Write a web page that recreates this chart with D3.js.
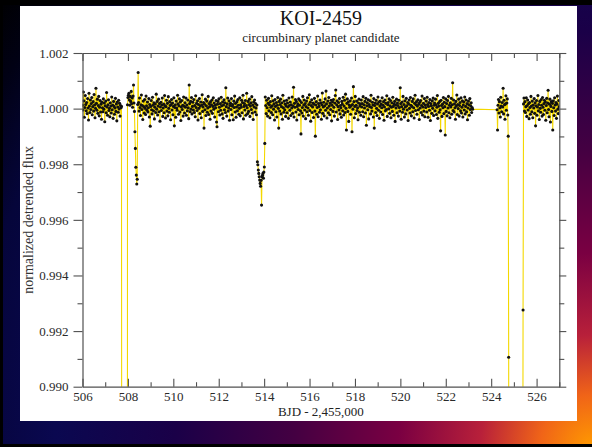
<!DOCTYPE html>
<html>
<head>
<meta charset="utf-8">
<script src="https://cdn.jsdelivr.net/npm/d3@7"></script>
<style>
  html, body { margin: 0; padding: 0; background: #000; }
  svg { display: block; }
</style>
</head>
<body>
<script>
// Kepler long-cadence sampling interval (days)
const cadence = 0.02043;

// Start times (BJD - 2,455,000) of the two contiguous stretches of photometry
const startA = 506.0;
const startB = 524.26;

// Detrended flux, as deviation from 1 in units of 1e-5, one value per cadence
const devA = [
  12, -5, 60, 28, -31, 4, 47, 15, -8, 22, -18, 36, 2, -41, 55, 9, -14, 31, -3, 18,
  40, -22, 7, 25, -9, 51, 13, -33, 1, 73, 19, -6, 34, -17, 11, 44, -26, 5, 29, -12,
  16, -38, 23, 3, -11, 35, -2, 20, -47, 10, 27, -15, 58, 6, -24, 14, 32, -7, 1, -29,
  21, 9, -16, 42, -4, 13, -35, 26, 8, -20, 2, 37, -10, 17, -44, 24, 6, -13, 30, -1,
  19, -27, 11, 3, 8, -2500, -8000, -14000, -19000, -22000, -23500, -24000, -23500, -22000, -19000, -14000, -8000, 14, 40, 48,
  55, 31, 12, 44, 26, 62, 18, 38, 5, 45, 85, 20, -10, -83, -143, -211, -239, -271, -254, 15,
  130, 22, -9, 38, 4, -25, 14, 49, -3, 11, -39, 27, 7, -16, 33, 1, -21, 45, 10, -6,
  24, -12, 3, 36, -30, 15, -63, 8, 29, -4, -19, 41, 12, -8, 21, -37, 5, 17, -14, 52,
  -2, 26, -23, 9, 34, -11, 18, -45, 6, 23, -7, 13, 38, -28, 2, 16, -15, 47, 10, -34,
  7, 30, -9, 19, -26, 43, 1, -13, 25, 11, -40, 15, 33, -5, 20, -22, 8, 39, -62, 4,
  14, -31, 27, 2, -6, 48, 17, -20, 10, 35, -12, 24, -43, 6, 29, -3, 12, -27, 42, 9,
  -16, 21, 5, 38, -24, 13, -8, 31, 3, -36, 85, 18, -11, 26, -2, 40, -19, 8, 23, -5,
  33, -14, 11, -29, 46, 4, 19, -7, 28, -41, 15, 1, 36, -18, 9, 24, -33, 13, 50, -10,
  6, 22, -70, 16, -4, 34, -25, 10, 27, -13, 2, 44, -21, 18, 7, -38, 25, -9, 14, 31,
  -17, 8, 39, -2, 20, -30, 12, 3, 29, -48, -65, 16, 26, -11, 35, 5, -23, 18, -6, 41,
  10, -19, 24, -35, 13, 32, -4, 21, -14, 75, 7, -27, 17, 38, -9, 2, 28, -42, 11, 19,
  -3, 36, -22, 9, 15, -40, 27, 4, 45, -12, 19, -31, 6, 25, -8, 33, 12, -20, 1, 39,
  -26, 14, 5, 30, -15, 22, 48, -37, 8, 18, -5, 29, -24, 11, 55, 3, -18, 26, -10, 15,
  34, -28, 9, 21, -3, 43, -16, 13, -39, 24, 6, 31, -12, 18, 2, -22, 13, -191, -202, -221,
  -233, -245, -257, -269, -279, -258, -347, -245, -240, -233, -250, -228, -210, -125, 42, 11, -18, 30, 3, -27,
  19, 37, -8, 14, -33, 25, 5, -14, 46, 10, -22, 28, -2, 17, -41, 33, 8, -11, 22, -30,
  12, 40, 1, -70, 26, -9, 15, 34, -19, 7, 21, -38, 48, 3, -13, 27, -4, 16, -28, 9,
  30, -15, 20, 6, -35, 38, 11, -6, 24, -25, 14, 2, 42, -17, 9, 77, -30, 19, 5, 33,
  -12, 26, -41, 8, 17, -3, 35, -22, 12, 29, -8, -91, 22, -16, 4, 44, -27, 13, 31, -5,
  18, -36, 7, 27, -11, 39, 2, -24, 15, 50, -7, 23, -45, 11, 32, -14, 6, 20, -32, 16,
  37, -9, -99, 13, 25, -20, 4, 45, -29, 18, 8, -13, 31, -4, 21, -38, 14, 56, -17, 6,
  23, -26, 10, 35, -6, 63, 17, -34, 2, 27, -15, 40, 9, -22, 19, -3, 30, -44, 12, 24,
  -10, 33, 5, -27, 20, 47, 67, -12, 14, 28, -39, 7, 22, -5, 36, -19, 11, 3, -31, 26,
  16, -8, 41, -23, 9, 30, -14, 52, 1, -77, 19, 35, -10, 24, -46, 13, 5, 28, -20, 10,
  38, -83, 15, -2, 79, 25, -33, 8, 44, -18, 12, 27, -7, 3, -40, 20, 34, -13, 9, 17,
  -24, 31, 6, 18, -11, 43, -29, 14, 2, 26, -16, 37, -60, 10, 21, -4, 32, -37, 15, 7,
  28, -19, 48, 4, -9, 23, 13, -30, 36, -70, 11, 20, -14, 30, 1, -25, 17, 42, -6, 24,
  -35, 9, 27, -12, 16, 3, 39, -21, 12, 25, -42, 6, 31, -8, 19, -3, 46, -28, 14, 22,
  -1, 35, -17, 10, 29, -33, 5, 21, -10, 41, 8, -24, 16, 26, -46, 13, 2, 34, -15, 20,
  11, -27, 30, 4, -9, 75, 18, -38, 7, 24, -13, 44, -2, 15, -30, 28, 6, -19, 37, 10,
  -5, 22, -43, 17, 31, 1, -16, 40, 12, -26, 8, 26, -11, 35, 3, -34, 19, 48, -7, 14,
  25, -20, 9, 32, -4, 16, -39, 23, 2, 29, -14, 11, 45, -23, 6, 19, -9, 36, -29, 13,
  4, 27, -12, 41, 15, -31, 8, 22, -6, 33, -43, 18, 10, -17, 28, 1, 38, -25, 12, 20,
  -8, 34, 14, -21, 5, 47, -35, 19, 9, -13, 26, -4, -80, 30, 11, -28, 16, 3, 40, -18,
  23, 7, -95, 35, -10, 18, -26, 29, 2, 44, -15, 12, -33, 21, 6, 37, -20, 14, 93, -7,
  31, -12, 17, 3, -38, 26, 9, 49, -21, 15, 0, 34, -27, 11, 22, -8, 39, -16, 5, 28,
  -30, 13, 24, -5, 42, -19, 8, 31, -11, 18, -40, 2, 27, 14, -24, 36, -3, 10, 21, -14,
  4, -2
];

const devB = [
  -4, -77, 12, 33, -16, 25, 3, -30, 41, 9, -11, 22, 6, 73, -19, 30, 14, -38, 17, 46,
  -6, 20, 35, -23, -99, -894, -3000, -9000, -15000, -20000, -23000, -24500, -25200, -25600, -25800, -25900, -26000, -26000, -25900, -25800,
  -25700, -25600, -25500, -25400, -25300, -25200, -25000, -24600, -24000, -23000, -21000, -18000, -14000, -9000, -5000, -2000, -724, 17, 38, -9,
  25, -14, 7, 39, -28, 11, 31, -5, 18, -36, 22, 4, -20, 44, 9, -11, 27, -33, 13, 2,
  36, -17, 21, -62, 10, 29, -24, 6, 47, -8, 15, -39, 26, 1, -13, 33, 12, -27, 40, 5,
  -21, 18, 30, -6, 24, -42, 11, 37, -15, 20, 66, -3, -29, 16, 34, -48, 8, 25, -10, 19,
  -77, 28, 3, -25, 39, 13, -9, 22, -35, 16, 45, -2, -18, 29, 7
];

const xMajorTicks = [506, 508, 510, 512, 514, 516, 518, 520, 522, 524, 526];
const xMinorTicks = [507, 509, 511, 513, 515, 517, 519, 521, 523, 525, 527];
const yMajorTicks = [0.990, 0.992, 0.994, 0.996, 0.998, 1.000, 1.002];
const yMinorTicks = [0.991, 0.993, 0.995, 0.997, 0.999, 1.001];

const titleText = "KOI-2459";
const subtitleText = "circumbinary planet candidate";
const xTitle = "BJD - 2,455,000";
const yTitle = "normalized detrended flux";

const W = 592, H = 447;
const plot = { left: 82.5, right: 559.3, top: 53, bottom: 386.7 };
const serif = "'Liberation Serif', 'Times New Roman', Times, serif";

const svg = d3.select("body").append("svg")
  .attr("width", W).attr("height", H)
  .attr("viewBox", `0 0 ${W} ${H}`);

// Slide backdrop: glow from the lower-right corner fading to black
const defs = svg.append("defs");
const grad = defs.append("radialGradient")
  .attr("id", "backdrop")
  .attr("gradientUnits", "userSpaceOnUse")
  .attr("cx", W).attr("cy", H).attr("r", 745);
[
  [0.00, "#ff9a00"], [0.07, "#f06418"], [0.15, "#b8203a"], [0.26, "#7a0042"],
  [0.40, "#440042"], [0.56, "#1a0048"], [0.72, "#0a0850"], [0.84, "#05053a"],
  [0.93, "#010114"], [1.00, "#000000"]
].forEach(([o, c]) => grad.append("stop").attr("offset", o).attr("stop-color", c));

svg.append("rect").attr("width", W).attr("height", H).attr("fill", "url(#backdrop)");
svg.append("rect").attr("x", 0).attr("y", 0).attr("width", W).attr("height", 5).attr("fill", "#000");
svg.append("rect").attr("x", 0).attr("y", 0).attr("width", 3).attr("height", H).attr("fill", "#000");
svg.append("rect").attr("x", 0).attr("y", H - 3).attr("width", W).attr("height", 3).attr("fill", "#000");

// White chart card
svg.append("rect")
  .attr("x", 20).attr("y", 6).attr("width", 557).attr("height", 415)
  .attr("fill", "#ffffff");

const x = d3.scaleLinear().domain([506, 527]).range([plot.left, plot.right]);
const y = d3.scaleLinear().domain([0.990, 1.002]).range([plot.bottom, plot.top]);

const series = devA.map((d, i) => ({ t: startA + i * cadence, f: 1 + d * 1e-5 }))
  .concat(devB.map((d, i) => ({ t: startB + i * cadence, f: 1 + d * 1e-5 })));

defs.append("clipPath").attr("id", "plotClip")
  .append("rect")
  .attr("x", plot.left).attr("y", plot.top)
  .attr("width", plot.right - plot.left).attr("height", plot.bottom - plot.top);

const dataG = svg.append("g").attr("clip-path", "url(#plotClip)");

dataG.append("path")
  .datum(series)
  .attr("fill", "none")
  .attr("stroke", "#f4d800")
  .attr("stroke-width", 1.1)
  .attr("d", d3.line().x(d => x(d.t)).y(d => y(d.f)));

dataG.selectAll("circle")
  .data(series)
  .join("circle")
  .attr("cx", d => x(d.t))
  .attr("cy", d => y(d.f))
  .attr("r", 1.55)
  .attr("fill", "#111");

// Axes: major ticks with labels, minor ticks unlabeled
const axisColor = "#505050";
function styleAxis(g) {
  g.selectAll("path.domain").attr("stroke", axisColor).attr("stroke-width", 1.2);
  g.selectAll(".tick line").attr("stroke", axisColor).attr("stroke-width", 1.1);
  g.selectAll(".tick text")
    .attr("fill", "#2a2a2a")
    .style("font-family", serif)
    .style("font-size", "13px");
}

const axisBottomG = svg.append("g").attr("transform", `translate(0,${plot.bottom})`);
axisBottomG.call(d3.axisBottom(x).tickValues(xMajorTicks).tickSizeInner(-8).tickSizeOuter(0).tickPadding(5).tickFormat(d3.format("d")));
axisBottomG.append("g").call(d3.axisBottom(x).tickValues(xMinorTicks).tickSize(-4.5).tickFormat(""))
  .call(g => g.select(".domain").remove());
styleAxis(axisBottomG);

const axisTopG = svg.append("g").attr("transform", `translate(0,${plot.top})`);
axisTopG.call(d3.axisTop(x).tickValues(xMajorTicks).tickSizeInner(-8).tickSizeOuter(0).tickFormat(""));
axisTopG.append("g").call(d3.axisTop(x).tickValues(xMinorTicks).tickSize(-5).tickFormat(""))
  .call(g => g.select(".domain").remove());
styleAxis(axisTopG);

const axisLeftG = svg.append("g").attr("transform", `translate(${plot.left},0)`);
axisLeftG.call(d3.axisLeft(y).tickValues(yMajorTicks).tickSizeInner(9).tickSizeOuter(0).tickPadding(5).tickFormat(d3.format(".3f")));
axisLeftG.append("g").call(d3.axisLeft(y).tickValues(yMinorTicks).tickSize(5).tickFormat(""))
  .call(g => g.select(".domain").remove());
styleAxis(axisLeftG);

const axisRightG = svg.append("g").attr("transform", `translate(${plot.right},0)`);
axisRightG.call(d3.axisRight(y).tickValues(yMajorTicks).tickSizeInner(7).tickSizeOuter(0).tickFormat(""));
axisRightG.append("g").call(d3.axisRight(y).tickValues(yMinorTicks).tickSize(5).tickFormat(""))
  .call(g => g.select(".domain").remove());
styleAxis(axisRightG);

// Titles
const cx = (plot.left + plot.right) / 2;
svg.append("text")
  .attr("x", cx).attr("y", 25)
  .attr("text-anchor", "middle")
  .style("font-family", serif).style("font-size", "20px")
  .attr("fill", "#111")
  .text(titleText);

svg.append("text")
  .attr("x", cx).attr("y", 41.5)
  .attr("text-anchor", "middle")
  .style("font-family", serif).style("font-size", "13px")
  .attr("fill", "#222")
  .text(subtitleText);

svg.append("text")
  .attr("x", cx).attr("y", 416)
  .attr("text-anchor", "middle")
  .style("font-family", serif).style("font-size", "13px")
  .attr("fill", "#222")
  .text(xTitle);

svg.append("text")
  .attr("transform", `translate(33,${(plot.top + plot.bottom) / 2}) rotate(-90)`)
  .attr("text-anchor", "middle")
  .style("font-family", serif).style("font-size", "14px")
  .attr("fill", "#333")
  .text(yTitle);
</script>
</body>
</html>
